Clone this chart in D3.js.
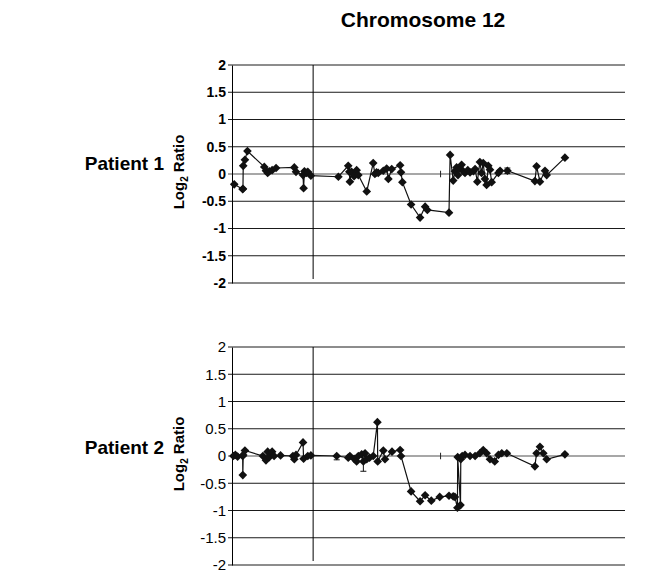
<!DOCTYPE html>
<html>
<head>
<meta charset="utf-8">
<script src="https://cdn.jsdelivr.net/npm/d3@7"></script>
<style>
  body { margin: 0; background: #fff; }
  text { font-family: "Liberation Sans", Arial, sans-serif; fill: #000; }
</style>
</head>
<body>
<svg id="canvas"></svg>
<script>
"use strict";

// position along chromosome 12 (Mb) and log2 ratio
const patient1X = [0.8, 3.8, 3.9, 4.0, 4.6, 5.5, 11.5, 12.1, 12.7, 13.3, 14.3, 15.7, 22.2, 22.8, 25.3, 25.5, 25.8, 26.5, 27.0, 28.1,
    37.9, 41.4, 41.8, 42.0, 42.6, 43.5, 44.4, 45.0, 48.0, 50.3, 50.9, 51.5, 52.1, 53.9, 55.1, 55.7, 56.9, 59.9, 60.2, 60.7,
    63.8, 67.0, 68.8, 69.6, 77.3, 77.7, 78.8, 79.4, 80.0, 80.5, 81.2, 81.8, 82.4, 83.0, 84.0, 84.8, 86.0, 86.6, 87.4, 88.3,
    88.9, 89.5, 90.1, 90.7, 91.3, 91.9, 92.5, 94.9, 95.5, 98.1, 107.9, 108.5, 109.7, 111.5, 112.1, 118.6];
const patient1Y = [-0.19, -0.28, -0.27, 0.15, 0.26, 0.42, 0.13, 0.06, 0.02, 0.05, 0.07, 0.11, 0.12, 0.04, -0.02, -0.26, 0.05, 0.02, 0.04, -0.03,
    -0.05, 0.15, 0.04, -0.14, 0.04, -0.04, 0.07, -0.02, -0.32, 0.2, 0.0, 0.03, 0.02, 0.06, 0.1, -0.09, 0.09, 0.16, 0.03, -0.15,
    -0.56, -0.8, -0.6, -0.66, -0.71, 0.35, -0.12, 0.05, 0.12, -0.02, 0.1, 0.17, 0.05, 0.02, 0.07, 0.03, 0.05, 0.09, -0.14, 0.22,
    0.02, 0.2, -0.09, -0.2, 0.15, 0.08, -0.15, 0.02, 0.06, 0.06, -0.13, 0.14, -0.14, 0.06, -0.02, 0.3];

const patient2X = [0.5, 1.2, 2.0, 3.8, 3.85, 4.0, 4.6, 11.0, 12.1, 12.7, 13.3, 14.3, 15.0, 17.3, 21.7, 22.2, 22.8, 25.3, 25.5, 27.0, 28.1,
    37.3, 41.4, 42.0, 43.5, 44.4, 45.0, 46.2, 46.8, 47.4, 48.0, 49.0, 50.3, 51.8, 51.9, 53.9, 54.5, 57.0, 59.9, 60.2,
    63.8, 67.0, 68.8, 71.0, 74.0, 77.3, 78.8, 79.4, 80.3, 80.4, 81.4, 81.5, 82.0, 83.0, 84.8, 86.6, 88.3, 89.5, 90.7, 91.9,
    93.6, 94.9, 96.1, 97.9, 107.9, 108.5, 109.7, 110.9, 112.1, 118.6];
const patient2Y = [0.0, 0.02, -0.01, 0.0, -0.35, 0.02, 0.1, 0.0, -0.08, 0.08, -0.02, 0.08, 0.0, 0.01, 0.0, -0.06, 0.02, 0.25, -0.05, 0.0, 0.01,
    0.0, -0.03, 0.0, -0.05, -0.1, 0.0, 0.03, -0.1, 0.05, -0.06, -0.03, 0.0, 0.62, -0.1, 0.1, -0.06, 0.08, 0.11, 0.0,
    -0.65, -0.83, -0.72, -0.82, -0.75, -0.73, -0.74, -0.75, -0.95, -0.02, -0.9, -0.06, 0.0, 0.02, 0.0, 0.0, 0.05, 0.11, 0.05, -0.06,
    -0.1, 0.02, 0.05, 0.05, -0.19, 0.05, 0.17, 0.05, -0.06, 0.03];

// error bars: position, low, high
const patient1ErrX = [98.1];
const patient1ErrLo = [0.01];
const patient1ErrHi = [0.11];
const patient2ErrX = [37.3, 46.8];
const patient2ErrLo = [-0.07, -0.28];
const patient2ErrHi = [0.0, -0.1];

// small uncapped mark sitting on the zero line
const zeroMarkX = [74.3];

const yTicks = [2, 1.5, 1, 0.5, 0, -0.5, -1, -1.5, -2];
const centromere = 28.9;
const chromLength = 140;

let width = 645;
let height = 578;

let canvas = d3.select('#canvas')
    .attr('width', width)
    .attr('height', height);

let xScale = d3.scaleLinear()
    .domain([0, chromLength])
    .range([232, 625]);

canvas.append('text')
    .attr('x', 423)
    .attr('y', 27)
    .attr('text-anchor', 'middle')
    .style('font-size', '21px')
    .style('font-weight', 'bold')
    .text('Chromosome 12');

const drawPanel = (opts) => {
    let yScale = d3.scaleLinear()
        .domain([-2, 2])
        .range([opts.bottom, opts.top]);

    let g = canvas.append('g');

    // gridlines
    g.selectAll('line.grid')
        .data(yTicks.filter(d => d !== 0))
        .enter()
        .append('line')
        .attr('x1', 228)
        .attr('x2', xScale.range()[1])
        .attr('y1', d => yScale(d))
        .attr('y2', d => yScale(d))
        .attr('stroke', '#1a1a1a')
        .attr('stroke-width', 1);

    g.append('line')
        .attr('x1', 228)
        .attr('x2', xScale.range()[1])
        .attr('y1', yScale(0))
        .attr('y2', yScale(0))
        .attr('stroke', '#8a8a8a')
        .attr('stroke-width', 1.5);

    // y axis
    let yAxis = d3.axisLeft(yScale)
        .tickValues(yTicks)
        .tickSize(0)
        .tickPadding(6)
        .tickFormat(d => String(d));

    let ax = g.append('g')
        .attr('transform', 'translate(' + xScale(0) + ', 0)')
        .call(yAxis);
    ax.select('.domain').attr('stroke', '#000');
    ax.selectAll('text')
        .style('font-family', '"Liberation Sans", Arial, sans-serif')
        .style('font-size', opts.tickSize)
        .style('font-weight', opts.tickWeight)
        .attr('fill', '#000');

    // centromere line
    g.append('line')
        .attr('x1', xScale(centromere))
        .attr('x2', xScale(centromere))
        .attr('y1', yScale(2))
        .attr('y2', yScale(-2) - 4)
        .attr('stroke', '#000')
        .attr('stroke-width', 1);

    zeroMarkX.forEach(x => {
        g.append('line')
            .attr('x1', xScale(x)).attr('x2', xScale(x))
            .attr('y1', yScale(0.06)).attr('y2', yScale(-0.06))
            .attr('stroke', '#222');
    });

    let pts = opts.xs.map((x, i) => ({ x: x, y: opts.ys[i] }));

    let line = d3.line()
        .x(d => xScale(d.x))
        .y(d => yScale(d.y));

    g.append('path')
        .datum(pts)
        .attr('d', line)
        .attr('fill', 'none')
        .attr('stroke', '#111')
        .attr('stroke-width', 1.2);

    let errs = opts.errX.map((x, i) => ({ x: x, lo: opts.errLo[i], hi: opts.errHi[i] }));
    errs.forEach(e => {
        g.append('line')
            .attr('x1', xScale(e.x)).attr('x2', xScale(e.x))
            .attr('y1', yScale(e.lo)).attr('y2', yScale(e.hi))
            .attr('stroke', '#111');
        [e.lo, e.hi].forEach(v => {
            g.append('line')
                .attr('x1', xScale(e.x) - 3).attr('x2', xScale(e.x) + 3)
                .attr('y1', yScale(v)).attr('y2', yScale(v))
                .attr('stroke', '#111');
        });
    });

    g.selectAll('path.pt')
        .data(pts)
        .enter()
        .append('path')
        .attr('class', 'pt')
        .attr('d', d3.symbol().type(d3.symbolDiamond2).size(48))
        .attr('transform', d => 'translate(' + xScale(d.x) + ',' + yScale(d.y) + ')')
        .attr('fill', '#111');

    // y label
    let mid = (opts.top + opts.bottom) / 2 - 2;
    let lab = g.append('text')
        .attr('transform', 'translate(184,' + mid + ') rotate(-90)')
        .attr('text-anchor', 'middle')
        .style('font-size', '15px')
        .style('font-weight', 'bold');
    lab.append('tspan').text('Log');
    lab.append('tspan').attr('dy', 4).style('font-size', '10px').text('2');
    lab.append('tspan').attr('dy', -4).text(' Ratio');

    canvas.append('text')
        .attr('x', 164)
        .attr('y', opts.labelY)
        .attr('text-anchor', 'end')
        .style('font-size', '19px')
        .style('font-weight', 'bold')
        .text(opts.name);
};

drawPanel({
    name: 'Patient 1', top: 65, bottom: 283, labelY: 170,
    xs: patient1X, ys: patient1Y,
    errX: patient1ErrX, errLo: patient1ErrLo, errHi: patient1ErrHi,
    tickSize: '14px', tickWeight: 'bold'
});

drawPanel({
    name: 'Patient 2', top: 347, bottom: 565, labelY: 454,
    xs: patient2X, ys: patient2Y,
    errX: patient2ErrX, errLo: patient2ErrLo, errHi: patient2ErrHi,
    tickSize: '15px', tickWeight: 'normal'
});
</script>
</body>
</html>
